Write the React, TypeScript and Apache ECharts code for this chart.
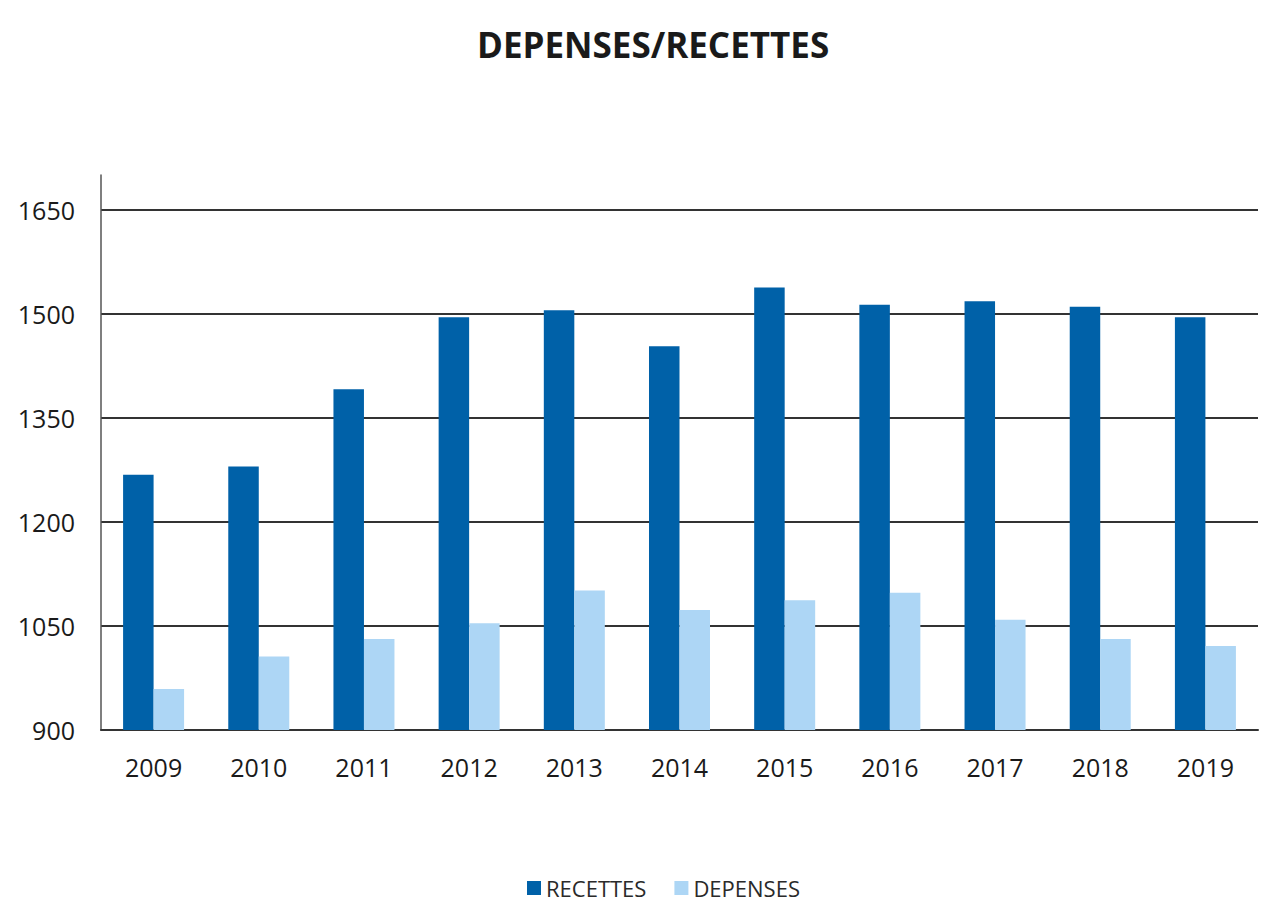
import React, { useEffect, useRef } from "react";
import * as echarts from "echarts";

const years = ["2009", "2010", "2011", "2012", "2013", "2014", "2015", "2016", "2017", "2018", "2019"];
const recettes = [1268, 1280, 1391, 1495, 1505, 1453, 1538, 1513, 1518, 1510, 1495];
const depenses = [959, 1006, 1031, 1054, 1101, 1073, 1087, 1098, 1059, 1031, 1021];
const yMin = 900;
const yMax = 1700;
const yStep = 150;

const FONT = "'Open Sans', 'Noto Sans', sans-serif";

export default function App() {
  const ref = useRef<HTMLDivElement>(null);
  useEffect(() => {
    document.body.style.margin = "0";
    const chart = echarts.init(ref.current!, null, { renderer: "svg" });
    chart.setOption({
      animation: false,
      backgroundColor: "#ffffff",
      title: {
        text: "DEPENSES/RECETTES",
        left: 472,
        top: 22,
        textStyle: { fontFamily: FONT, fontWeight: "bold", fontSize: 35, color: "#1a1a1a" },
      },
      legend: {
        bottom: 0,
        left: 522,
        itemWidth: 14,
        itemHeight: 14,
        itemGap: 28,
        icon: "rect",
        textStyle: { fontFamily: FONT, fontSize: 22, color: "#2a2a2a" },
        data: ["RECETTES", "DEPENSES"],
      },
      grid: { left: 101, right: 8, top: 175, bottom: 174, containLabel: false },
      xAxis: {
        type: "category",
        data: years,
        axisLine: { lineStyle: { color: "#333", width: 2 } },
        axisTick: { show: false },
        axisLabel: { fontFamily: FONT, fontSize: 25, color: "#1a1a1a", margin: 24 },
      },
      yAxis: {
        type: "value",
        min: yMin,
        max: yMax,
        interval: yStep,
        axisLine: { show: true, lineStyle: { color: "#555", width: 1.5 } },
        axisTick: { show: false },
        axisLabel: {
          fontFamily: FONT,
          fontSize: 25,
          color: "#1a1a1a",
          margin: 26,
          showMaxLabel: false,
          formatter: (v: number) => (v > 1650 ? "" : String(v)),
        },
        splitLine: { show: true, showMaxLine: false, lineStyle: { color: "#333", width: 2 } },
      },
      series: [
        {
          name: "RECETTES",
          type: "bar",
          data: recettes,
          barWidth: "29%",
          barGap: "0%",
          itemStyle: { color: "#0061A8" },
        },
        {
          name: "DEPENSES",
          type: "bar",
          data: depenses,
          barWidth: "29%",
          barGap: "0%",
          itemStyle: { color: "#ADD6F5" },
        },
      ],
    });
    return () => chart.dispose();
  }, []);
  return <div ref={ref} style={{ width: 1266, height: 904 }} />;
}
